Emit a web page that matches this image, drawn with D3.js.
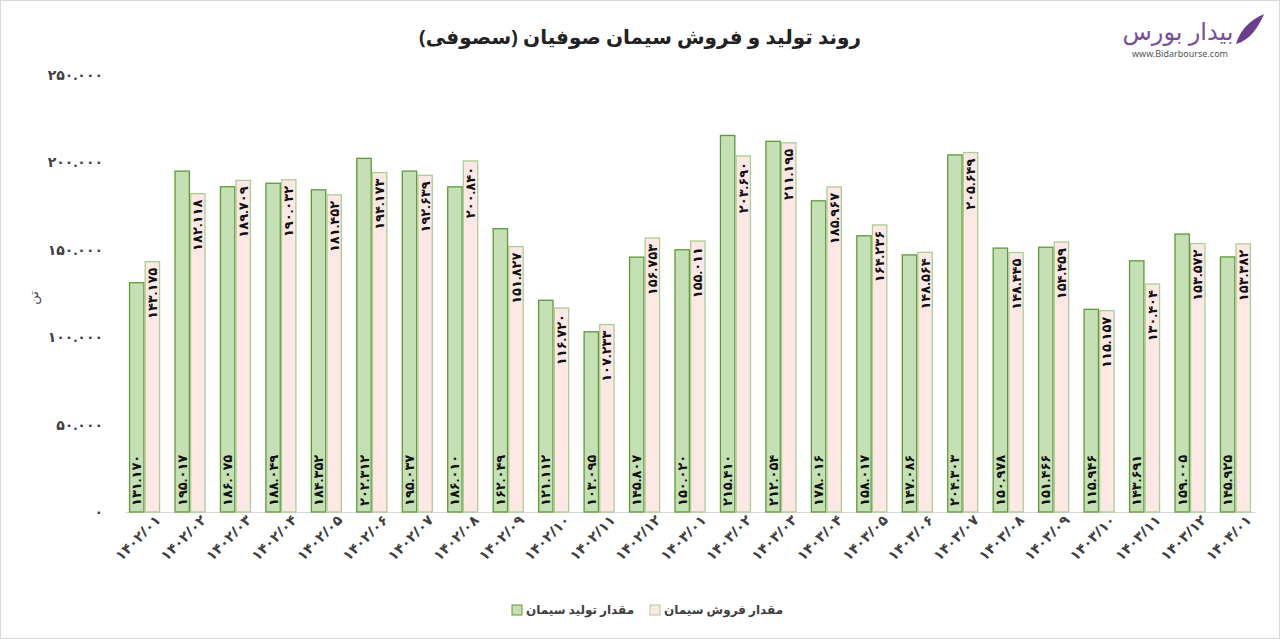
<!DOCTYPE html>
<html>
<head>
<meta charset="utf-8">
<script src="https://cdn.jsdelivr.net/npm/d3@7"></script>
<style>
  body { margin: 0; background: #fff; }
  text { font-family: "Noto Sans", "DejaVu Sans", sans-serif; }
</style>
</head>
<body>
<div id="vis"></div>
<script>
// Frame
const FRAME_WIDTH = 1280;
const FRAME_HEIGHT = 639;
const MARGINS = { left: 125, right: 25, top: 75, bottom: 127 };
const VIS_WIDTH = FRAME_WIDTH - MARGINS.left - MARGINS.right;
const VIS_HEIGHT = FRAME_HEIGHT - MARGINS.top - MARGINS.bottom;

// Data
const months = ["1402/01","1402/02","1402/03","1402/04","1402/05","1402/06","1402/07","1402/08","1402/09","1402/10","1402/11","1402/12",
  "1403/01","1403/02","1403/03","1403/04","1403/05","1403/06","1403/07","1403/08","1403/09","1403/10","1403/11","1403/12","1404/01"];
const production = [131170,195017,186075,188049,184352,202312,195037,186010,162049,121112,103095,145807,
  150020,215410,212054,178016,158017,147086,204303,150978,151466,115946,143691,159005,145925];
const sales = [143175,182118,189709,190032,181452,194173,192639,200840,151827,116720,107233,156753,
  155011,203690,211195,185967,164236,148564,205649,148445,154459,115157,130404,153572,153382];
const yTicks = [0, 50000, 100000, 150000, 200000, 250000];

const faDigits = "۰۱۲۳۴۵۶۷۸۹";
function fa(s) { return String(s).replace(/[0-9]/g, (c) => faDigits[+c]); }
function faNum(v) { return fa(d3.format(",")(v).replace(/,/g, ".")); }

const FRAME = d3.select("#vis").append("svg")
    .attr("width", FRAME_WIDTH)
    .attr("height", FRAME_HEIGHT);

FRAME.append("rect")
    .attr("x", 0.5).attr("y", 0.5)
    .attr("width", FRAME_WIDTH - 1).attr("height", FRAME_HEIGHT - 1)
    .attr("fill", "#fff").attr("stroke", "#d9d9d9");

const X_SCALE = d3.scaleBand().domain(months).range([0, VIS_WIDTH]).paddingInner(0.34).paddingOuter(0.1);
const X_SUB = d3.scaleBand().domain(["p", "s"]).range([0, X_SCALE.bandwidth()]).paddingInner(0.08);
const Y_SCALE = d3.scaleLinear().domain([0, 250000]).range([VIS_HEIGHT, 0]);

const G = FRAME.append("g").attr("transform", "translate(" + MARGINS.left + "," + MARGINS.top + ")");

// Y axis (labels only)
const yAxis = G.append("g")
    .call(d3.axisLeft(Y_SCALE).tickValues(yTicks).tickSize(0).tickPadding(22).tickFormat(faNum));
yAxis.select(".domain").remove();
yAxis.selectAll("text").attr("font-size", "14px").attr("font-weight", "bold").attr("fill", "#404040");

// X axis
const xAxis = G.append("g")
    .attr("transform", "translate(0," + VIS_HEIGHT + ")")
    .call(d3.axisBottom(X_SCALE).tickSize(0).tickPadding(10).tickFormat(fa));
xAxis.select(".domain").attr("stroke", "#d9d9d9");
xAxis.selectAll("text")
    .attr("font-size", "14px").attr("font-weight", "bold").attr("fill", "#404040")
    .attr("text-anchor", "end")
    .attr("dx", "0.4em").attr("dy", "0.6em")
    .attr("transform", "rotate(-45)");

const groups = G.selectAll(".grp").data(months).enter().append("g")
    .attr("transform", (d) => "translate(" + X_SCALE(d) + ",0)");

// production bars
groups.append("rect")
    .attr("x", X_SUB("p"))
    .attr("y", (d, i) => Y_SCALE(production[i]))
    .attr("width", X_SUB.bandwidth())
    .attr("height", (d, i) => VIS_HEIGHT - Y_SCALE(production[i]))
    .attr("fill", "#c5e0b4").attr("stroke", "#5e9a3a").attr("stroke-width", 1.3);

// sales bars
groups.append("rect")
    .attr("x", X_SUB("s"))
    .attr("y", (d, i) => Y_SCALE(sales[i]))
    .attr("width", X_SUB.bandwidth())
    .attr("height", (d, i) => VIS_HEIGHT - Y_SCALE(sales[i]))
    .attr("fill", "#fde8e6").attr("stroke", "#a9cf92").attr("stroke-width", 1.3);

// labels
groups.append("text")
    .attr("transform", (d, i) => "translate(" + (X_SUB("p") + X_SUB.bandwidth() / 2) + "," + (VIS_HEIGHT - 6) + ") rotate(-90)")
    .attr("dy", "0.35em").attr("text-anchor", "start")
    .attr("font-size", "13px").attr("font-weight", "bold").attr("fill", "#111")
    .text((d, i) => faNum(production[i]));

groups.append("text")
    .attr("transform", (d, i) => "translate(" + (X_SUB("s") + X_SUB.bandwidth() / 2) + "," + (Y_SCALE(sales[i]) + 6) + ") rotate(-90)")
    .attr("dy", "0.35em").attr("text-anchor", "end")
    .attr("font-size", "13px").attr("font-weight", "bold").attr("fill", "#111")
    .text((d, i) => faNum(sales[i]));

// Title
FRAME.append("text")
    .attr("x", 640).attr("y", 44).attr("text-anchor", "middle")
    .attr("font-size", "20px").attr("font-weight", "bold").attr("fill", "#222")
    .text("روند تولید و فروش سیمان صوفیان (سصوفی)");

// Y label
FRAME.append("text")
    .attr("transform", "translate(38,298) rotate(-90)")
    .attr("text-anchor", "middle").attr("font-size", "13px").attr("fill", "#404040")
    .text("تن");

// Legend
const legend = [
  { name: "مقدار تولید سیمان", fill: "#c5e0b4", stroke: "#5e9a3a", x: 512 },
  { name: "مقدار فروش سیمان", fill: "#fde8e6", stroke: "#a9cf92", x: 650 }
];
const lg = FRAME.selectAll(".lg").data(legend).enter().append("g")
    .attr("transform", (d) => "translate(" + d.x + ",605)");
lg.append("rect").attr("width", 10).attr("height", 10)
    .attr("fill", (d) => d.fill).attr("stroke", (d) => d.stroke);
lg.append("text").attr("x", 14).attr("y", 9)
    .attr("font-size", "12px").attr("font-weight", "bold").attr("fill", "#404040")
    .text((d) => d.name);

// Logo
FRAME.append("text")
    .attr("x", 1178).attr("y", 40).attr("text-anchor", "middle")
    .attr("font-size", "24px").attr("fill", "#7a4f9a")
    .text("بیدار بورس");
FRAME.append("path")
    .attr("d", "M1236,44 C1240,30 1250,20 1264,14 C1258,28 1250,40 1236,44 Z")
    .attr("fill", "#6b3d8f");
FRAME.append("text")
    .attr("x", 1180).attr("y", 57).attr("text-anchor", "middle")
    .attr("font-size", "9px").attr("fill", "#555")
    .text("www.Bidarbourse.com");
</script>
</body>
</html>
